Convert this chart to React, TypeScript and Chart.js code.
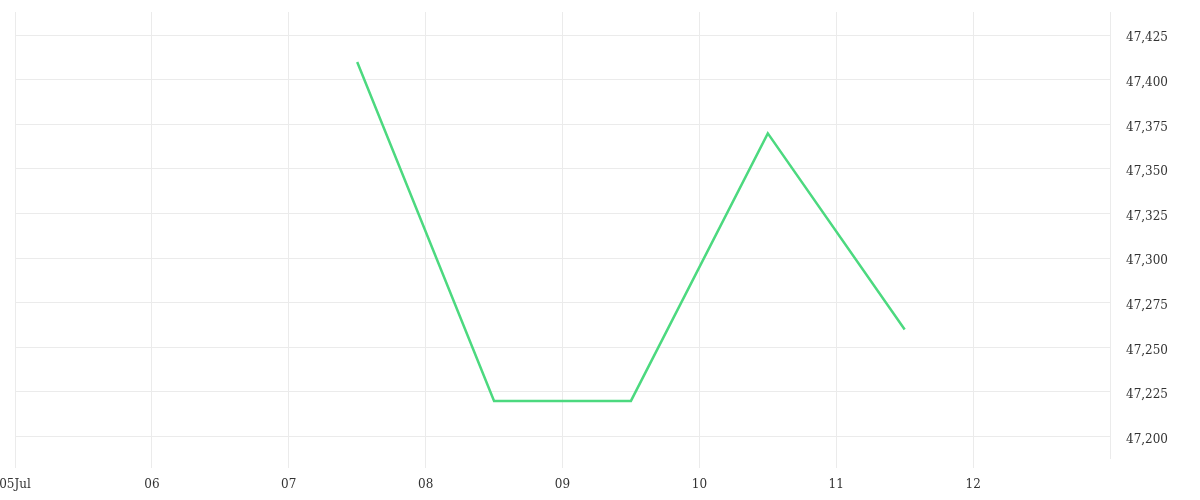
import React, { useEffect, useRef } from "react";
import { Chart, registerables } from "chart.js";

Chart.register(...registerables);

// day-of-month positions (noon of each day, July)
const dayPositions = [7.5, 8.5, 9.5, 10.5, 11.5];
const priceValues = [47410, 47220, 47220, 47370, 47260];
const xTickDays = [5, 6, 7, 8, 9, 10, 11, 12];
const xTickLabels = ["05Jul", "06", "07", "08", "09", "10", "11", "12"];
const yTickValues = [47200, 47225, 47250, 47275, 47300, 47325, 47350, 47375, 47400, 47425];

const FONT = "'DejaVu Serif', serif";

export default function App() {
  const ref = useRef<HTMLCanvasElement>(null);
  useEffect(() => {
    document.body.style.margin = "0";
    const ctx = ref.current!;
    const chart = new Chart(ctx, {
      type: "line",
      data: {
        datasets: [
          {
            data: dayPositions.map((d, i) => ({ x: d, y: priceValues[i] })),
            borderColor: "#4cd97f",
            borderWidth: 2.5,
            pointRadius: 0,
            tension: 0,
            fill: false,
          },
        ],
      },
      options: {
        animation: false,
        responsive: false,
        layout: { padding: { top: 12, left: 0, right: 0, bottom: 0 } },
        plugins: { legend: { display: false }, tooltip: { enabled: false } },
        scales: {
          x: {
            type: "linear",
            min: 5,
            max: 13,
            afterBuildTicks: (axis: any) => {
              axis.ticks = xTickDays.map((v) => ({ value: v }));
            },
            afterFit: (axis: any) => {
              axis.height = 42;
              axis.paddingLeft = 15;
              axis.paddingRight = 0;
            },
            ticks: {
              autoSkip: false,
              maxRotation: 0,
              color: "#333",
              font: { family: FONT, size: 12 },
              padding: 10,
              callback: (v: any) => {
                const i = xTickDays.indexOf(Number(v));
                return i >= 0 ? xTickLabels[i] : "";
              },
            },
            grid: { color: "#ebebeb", tickLength: 10 },
            border: { display: false },
          },
          y: {
            position: "right",
            min: 47188,
            max: 47438,
            afterBuildTicks: (axis: any) => {
              axis.ticks = yTickValues.map((v) => ({ value: v }));
            },
            afterFit: (axis: any) => {
              axis.width = 90;
              axis.paddingTop = 0;
              axis.paddingBottom = 0;
            },
            ticks: {
              color: "#333",
              font: { family: FONT, size: 12 },
              padding: 2,
              labelOffset: 3,
              callback: (v: any) => Number(v).toLocaleString("en-US"),
            },
            grid: { color: "#ebebeb", tickLength: 14, tickColor: "rgba(0,0,0,0)" },
            border: { display: true, color: "#ebebeb" },
          },
        },
      },
    });
    return () => chart.destroy();
  }, []);
  return <canvas ref={ref} width={1200} height={500} style={{ display: "block" }} />;
}
